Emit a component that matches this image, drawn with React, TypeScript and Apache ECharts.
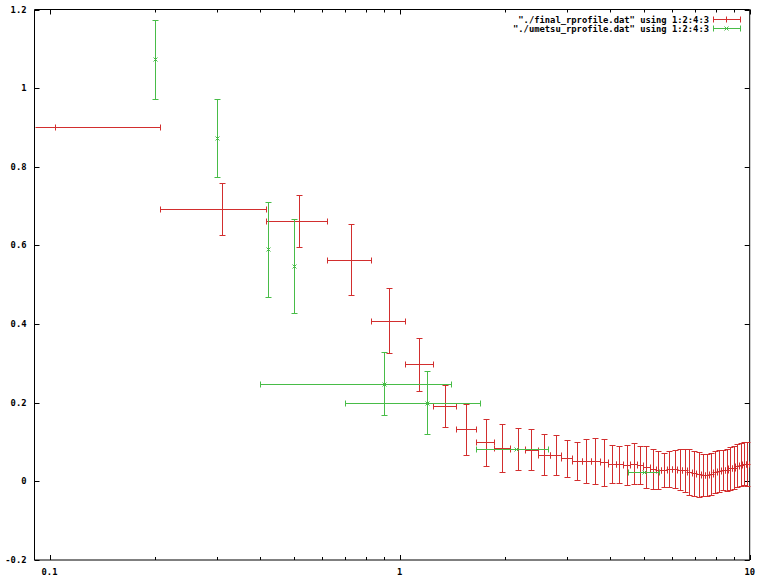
import React, { useEffect, useRef } from "react";
import * as echarts from "echarts";

// Axis ranges / ticks
const X_MIN = 0.0906;
const X_MAX = 10;
const Y_MIN = -0.2;
const Y_MAX = 1.2;
const Y_TICKS = [-0.2, 0, 0.2, 0.4, 0.6, 0.8, 1, 1.2];
const X_MAJOR_TICKS = [0.1, 1, 10];
const X_MINOR_TICKS = [0.2, 0.3, 0.4, 0.5, 0.6, 0.7, 0.8, 0.9, 2, 3, 4, 5, 6, 7, 8, 9];

// "./final_rprofile.dat" using 1:2:4:3
const finalX = [
  0.1035, 0.3105, 0.5175, 0.7245, 0.9315, 1.1385, 1.3455, 1.5525, 1.7595, 1.9665,
  2.1735, 2.3805, 2.5875, 2.7945, 3.0015, 3.2085, 3.4155, 3.6225, 3.8295, 4.0365,
  4.2435, 4.4505, 4.6575, 4.8645, 5.0715, 5.2785, 5.4855, 5.6925, 5.8995, 6.1065,
  6.3135, 6.5205, 6.7275, 6.9345, 7.1415, 7.3485, 7.5555, 7.7625, 7.9695, 8.1765,
  8.3835, 8.5905, 8.7975, 9.0045, 9.2115, 9.4185, 9.6255, 9.8325,
];
const finalY = [
  0.9, 0.692, 0.661, 0.564, 0.409, 0.298, 0.192, 0.133, 0.099, 0.084,
  0.082, 0.08, 0.068, 0.067, 0.059, 0.052, 0.052, 0.051, 0.048, 0.044,
  0.043, 0.042, 0.045, 0.042, 0.037, 0.032, 0.029, 0.029, 0.031, 0.032,
  0.03, 0.028, 0.024, 0.021, 0.018, 0.016, 0.017, 0.018, 0.023, 0.026,
  0.029, 0.029, 0.033, 0.035, 0.04, 0.042, 0.045, 0.045,
];
const finalXErr = 0.1035;
const finalYErr = [
  0, 0.066, 0.066, 0.09, 0.083, 0.067, 0.054, 0.065, 0.059, 0.061,
  0.053, 0.052, 0.053, 0.05, 0.047, 0.049, 0.056, 0.058, 0.06, 0.048,
  0.047, 0.051, 0.052, 0.049, 0.054, 0.051, 0.049, 0.043, 0.046, 0.049,
  0.052, 0.055, 0.058, 0.057, 0.057, 0.054, 0.053, 0.053, 0.053, 0.053,
  0.05, 0.054, 0.054, 0.055, 0.055, 0.055, 0.055, 0.056,
];

// "./umetsu_rprofile.dat" using 1:2:4:3
const umetsuX = [0.2, 0.3, 0.42, 0.5, 0.9, 1.2, 2.15, 5.0];
const umetsuY = [1.073, 0.873, 0.59, 0.548, 0.248, 0.2, 0.082, 0.024];
const umetsuXErr = [0, 0, 0, 0, 0.5, 0.5, 0.5, 0.5];
const umetsuYErr = [0.1, 0.1, 0.12, 0.119, 0.08, 0.08, 0, 0];

const LEGEND_1 = '"./final_rprofile.dat" using 1:2:4:3';
const LEGEND_2 = '"./umetsu_rprofile.dat" using 1:2:4:3';

const RED = "#d22e2e";
const GREEN = "#48bc48";
const FONT_FAMILY = '"DejaVu Sans Mono", "Liberation Mono", monospace';
const FONT_SIZE = 8.8;

const px = (v: number) => Math.round(v) + 0.5;

function makeErrorRender(color: string, marker: "plus" | "cross") {
  return (_params: any, api: any) => {
    const x = api.value(0);
    const y = api.value(1);
    const dx = api.value(2);
    const dy = api.value(3);
    const c = api.coord([x, y]);
    const cx = px(c[0]);
    const cy = px(c[1]);
    const children: any[] = [];
    const seg = (x1: number, y1: number, x2: number, y2: number) =>
      children.push({
        type: "line",
        shape: { x1, y1, x2, y2 },
        style: { stroke: color, lineWidth: 1 },
      });
    const cap = 3;
    if (dx > 0) {
      const lx = x - dx;
      const clamped = lx <= X_MIN;
      const l = api.coord([clamped ? X_MIN : lx, y]);
      const r = api.coord([x + dx, y]);
      seg(px(l[0]), cy, px(r[0]), cy);
      if (!clamped) seg(px(l[0]), cy - cap, px(l[0]), cy + cap);
      seg(px(r[0]), cy - cap, px(r[0]), cy + cap);
    }
    if (dy > 0) {
      const t = api.coord([x, y + dy]);
      const b = api.coord([x, y - dy]);
      seg(cx, px(t[1]), cx, px(b[1]));
      seg(cx - cap, px(t[1]), cx + cap, px(t[1]));
      seg(cx - cap, px(b[1]), cx + cap, px(b[1]));
    }
    if (marker === "plus") {
      seg(cx - 3, cy, cx + 3, cy);
      seg(cx, cy - 3, cx, cy + 3);
    } else {
      seg(cx - 2, cy - 2, cx + 2, cy + 2);
      seg(cx - 2, cy + 2, cx + 2, cy - 2);
    }
    return { type: "group", children };
  };
}

function xTickRender(_params: any, api: any) {
  const v = api.value(0);
  const major = api.value(2) === 1;
  const len = major ? 5 : 3;
  const b = api.coord([v, Y_MIN]);
  const t = api.coord([v, Y_MAX]);
  const x = px(b[0]);
  const style = { stroke: "#000", lineWidth: 1 };
  return {
    type: "group",
    children: [
      { type: "line", shape: { x1: x, y1: b[1], x2: x, y2: b[1] - len }, style },
      { type: "line", shape: { x1: x, y1: t[1], x2: x, y2: t[1] + len }, style },
    ],
  };
}

function yTickRender(_params: any, api: any) {
  const v = api.value(1);
  const l = api.coord([X_MIN, v]);
  const r = api.coord([X_MAX, v]);
  const y = px(l[1]);
  const style = { stroke: "#000", lineWidth: 1 };
  return {
    type: "group",
    children: [
      { type: "line", shape: { x1: l[0], y1: y, x2: l[0] + 5, y2: y }, style },
      { type: "line", shape: { x1: r[0], y1: y, x2: r[0] - 5, y2: y }, style },
    ],
  };
}

function legendSample(y: number, color: string, marker: "plus" | "cross") {
  const x1 = 713.5;
  const x2 = 740.5;
  const xc = 726.5;
  const yy = y + 0.5;
  const style = { stroke: color, lineWidth: 1 };
  const els: any[] = [
    { type: "line", shape: { x1, y1: yy, x2, y2: yy }, style },
    { type: "line", shape: { x1, y1: yy - 3, x2: x1, y2: yy + 3 }, style },
    { type: "line", shape: { x1: x2, y1: yy - 3, x2, y2: yy + 3 }, style },
  ];
  if (marker === "plus") {
    els.push({ type: "line", shape: { x1: xc, y1: yy - 3, x2: xc, y2: yy + 3 }, style });
  } else {
    els.push({ type: "line", shape: { x1: xc - 2, y1: yy - 2, x2: xc + 2, y2: yy + 2 }, style });
    els.push({ type: "line", shape: { x1: xc - 2, y1: yy + 2, x2: xc + 2, y2: yy - 2 }, style });
  }
  return els;
}

function legendText(text: string, y: number) {
  return {
    type: "text",
    x: 709,
    y,
    style: {
      text,
      x: 0,
      y: 0,
      align: "right",
      textAlign: "right",
      verticalAlign: "middle",
      textVerticalAlign: "middle",
      fontFamily: FONT_FAMILY,
      fontWeight: "bold",
      fontSize: FONT_SIZE,
      fill: "#000",
    },
  };
}

export default function App() {
  const ref = useRef<HTMLDivElement>(null);

  useEffect(() => {
    if (!ref.current) return;
    const chart = echarts.init(ref.current, undefined, { renderer: "svg" });

    const finalData = finalX.map((x, i) => [x, finalY[i], finalXErr, finalYErr[i]]);
    const umetsuData = umetsuX.map((x, i) => [x, umetsuY[i], umetsuXErr[i], umetsuYErr[i]]);
    const xTickData = [
      ...X_MAJOR_TICKS.map((v) => [v, Y_MIN, 1]),
      ...X_MINOR_TICKS.map((v) => [v, Y_MIN, 0]),
    ];
    const yTickData = Y_TICKS.map((v) => [X_MIN, v]);

    const labelStyle = {
      color: "#000",
      fontFamily: FONT_FAMILY,
      fontWeight: "bold" as const,
      fontSize: FONT_SIZE,
    };

    chart.setOption({
      animation: false,
      backgroundColor: "#fff",
      grid: {
        left: 34.5,
        right: 7.5,
        top: 9.5,
        bottom: 14.5,
        show: true,
        borderColor: "#000",
        borderWidth: 1,
        backgroundColor: "transparent",
      },
      xAxis: {
        type: "log",
        logBase: 10,
        min: X_MIN,
        max: X_MAX,
        axisLine: { show: false },
        axisTick: { show: false },
        minorTick: { show: false },
        splitLine: { show: false },
        axisLabel: {
          ...labelStyle,
          margin: 7,
          showMinLabel: false,
          formatter: (v: number) => {
            const lg = Math.log10(v);
            if (Math.abs(lg - Math.round(lg)) > 1e-6) return "";
            return String(Number(v.toPrecision(6)));
          },
        },
      },
      yAxis: {
        type: "value",
        min: Y_MIN,
        max: Y_MAX,
        interval: 0.2,
        axisLine: { show: false },
        axisTick: { show: false },
        splitLine: { show: false },
        axisLabel: { ...labelStyle, margin: 8 },
      },
      series: [
        {
          type: "custom",
          name: "xticks",
          data: xTickData,
          encode: { x: 0, y: 1 },
          renderItem: xTickRender,
          clip: false,
          silent: true,
          z: 1,
        },
        {
          type: "custom",
          name: "yticks",
          data: yTickData,
          encode: { x: 0, y: 1 },
          renderItem: yTickRender,
          clip: false,
          silent: true,
          z: 1,
        },
        {
          type: "custom",
          name: LEGEND_1,
          data: finalData,
          encode: { x: 0, y: 1 },
          renderItem: makeErrorRender(RED, "plus"),
          clip: true,
          z: 2,
        },
        {
          type: "custom",
          name: LEGEND_2,
          data: umetsuData,
          encode: { x: 0, y: 1 },
          renderItem: makeErrorRender(GREEN, "cross"),
          clip: true,
          z: 3,
        },
      ],
      graphic: [
        legendText(LEGEND_1, 19.5),
        legendText(LEGEND_2, 28.5),
        ...legendSample(19, RED, "plus"),
        ...legendSample(28, GREEN, "cross"),
      ],
    });

    return () => chart.dispose();
  }, []);

  return (
    <div
      ref={ref}
      style={{ position: "fixed", left: 0, top: 0, width: 758, height: 576 }}
    />
  );
}
